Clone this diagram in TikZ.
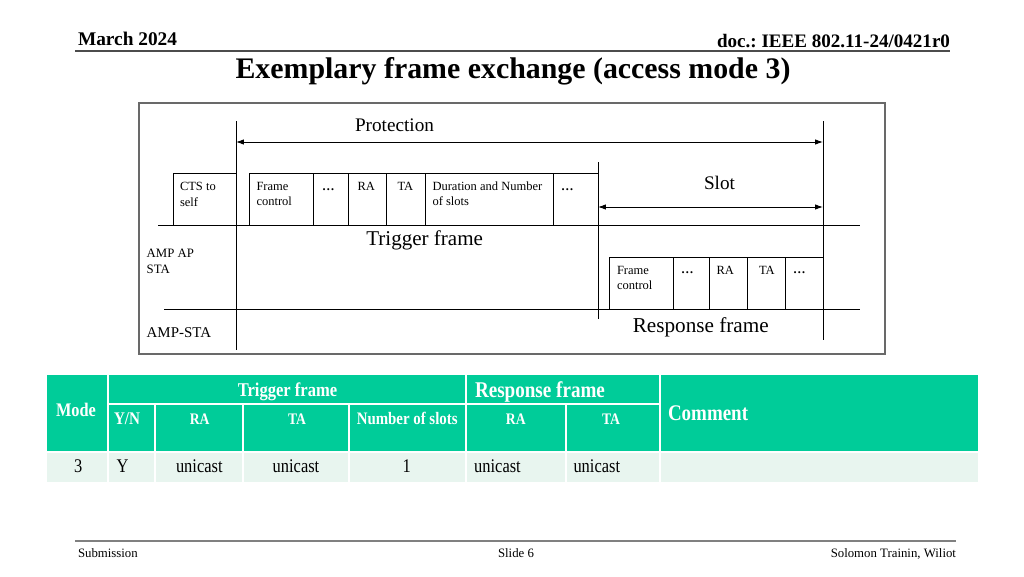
\documentclass[tikz,border=0pt]{standalone}
\usepackage{fontspec}
\setmainfont{Liberation Serif}
\newfontfamily\tabfont[FakeStretch=0.85]{Liberation Serif}
\usetikzlibrary{arrows.meta}
\definecolor{tealhd}{RGB}{0,204,153}
\definecolor{lightrow}{RGB}{232,245,239}
\definecolor{framegray}{RGB}{105,105,105}
\definecolor{footgray}{RGB}{128,128,128}
\newcommand{\fsz}[2]{\fontsize{#1pt}{#2pt}\selectfont}
\frenchspacing
\begin{document}
\begin{tikzpicture}[x=0.703125pt,y=-0.703125pt,
  txt/.style={inner sep=0pt, outer sep=0pt},
  boxtxt/.style={txt, anchor=north west, align=left, font=\fsz{8.8}{10.6}},
  dots/.style={txt, anchor=base west, font=\bfseries\fsz{8.8}{10.6}},
  ln/.style={line width=0.65pt},
  fbox/.style={draw, line width=0.65pt},
  dimarrow/.style={line width=0.65pt, {Latex[length=5.5pt,width=3.8pt]}-{Latex[length=5.5pt,width=3.8pt]}},
  thd/.style={txt, anchor=base, text=white, font=\tabfont\bfseries\fsz{#1}{#1}},
  thd/.default=12,
  tdat/.style={txt, anchor=base, font=\tabfont\fsz{13.6}{13.6}},
  sep/.style={white, line width=#1},
  sep/.default=0.8pt]
\useasboundingbox (0,0) rectangle (1024,576);
\fill[white] (0,0) rectangle (1024,576);

% ---------- header ----------
\node[txt, anchor=base west, font=\bfseries\fsz{13.6}{14}] (date) at (78,45.3) {March 2024};
\node[txt, anchor=base east, font=\bfseries\fsz{13.4}{14}] (doc) at (950,47) {doc.: IEEE 802.11-24/0421r0};
\draw[gray!60!black, line width=1.1pt] (75,51) -- (950,51);
\node[txt, anchor=base, font=\bfseries\fsz{21}{22}] (title) at (513,78) {Exemplary frame exchange (access mode 3)};

% ---------- diagram frame ----------
\draw[framegray, line width=0.9pt] (139,103) rectangle (885,354);

% vertical markers
\coordinate (v1t) at (236,121); \coordinate (v1b) at (236,349.5);
\coordinate (v2t) at (823,121); \coordinate (v2b) at (823,340);
\coordinate (v3t) at (598,162); \coordinate (v3b) at (598,319);
\draw[ln] (v1t) -- (v1b);
\draw[ln] (v2t) -- (v2b);
\draw[ln] (v3t) -- (v3b);

% time lines
\coordinate (ap1) at (158,225); \coordinate (ap2) at (860,225);
\coordinate (st1) at (164,309); \coordinate (st2) at (860,309);
\draw[ln] (ap1) -- (ap2);
\draw[ln] (st1) -- (st2);

% dimension arrows
\coordinate (pa) at (236,142); \coordinate (pb) at (823,142);
\draw[dimarrow] (pa) -- (pb);
\node[txt, anchor=base, font=\fsz{13.5}{14}] (prot) at (394.5,131) {Protection};
\coordinate (sa) at (598,207); \coordinate (sb) at (823,207);
\draw[dimarrow] (sa) -- (sb);
\node[txt, anchor=base, font=\fsz{13.5}{14}] (slot) at (719.5,189) {Slot};

% CTS to self
\draw[fbox] (173,173) rectangle (236,225);
\node[boxtxt] (cts) at (180,182.7) {CTS to\\self};

% Trigger frame fields
\draw[fbox] (249,173) rectangle (598,225);
\foreach \xx in {313,348,386,425,553} \draw[ln] (\xx,173) -- (\xx,225);
\node[boxtxt] (tfc) at (256.5,182.7) {Frame\\control};
\node[dots] (td1) at (322,190.5) {…};
\node[boxtxt] (tra) at (357.5,182.7) {RA};
\node[boxtxt] (tta) at (397.5,182.7) {TA};
\node[boxtxt] (tdur) at (432.5,182.2) {Duration and Number\\of slots};
\node[dots] (td2) at (561,190.5) {…};
\node[txt, anchor=base, font=\fsz{14.8}{15}] (trig) at (424.7,245.7) {Trigger frame};

% Response frame fields
\draw[fbox] (609,257.3) rectangle (823,309);
\foreach \xx in {673,709,747,785} \draw[ln] (\xx,257.3) -- (\xx,309);
\node[boxtxt] (rfc) at (617,266) {Frame\\control};
\node[dots] (rd1) at (681,273.5) {…};
\node[boxtxt] (rra) at (716.5,266) {RA};
\node[boxtxt] (rta) at (759,266) {TA};
\node[dots] (rd2) at (793,273.5) {…};
\node[txt, anchor=base, font=\fsz{14.9}{15}] (resp) at (700.8,332.3) {Response frame};

% station labels
\node[boxtxt, font=\fsz{9}{11}] (ap) at (146.7,249) {AMP AP\\STA};
\node[txt, anchor=base west, font=\fsz{10.5}{11}] (sta) at (146.7,337.7) {AMP-STA};

% ---------- table ----------
\fill[tealhd] (47,375) rectangle (978,451);
\fill[lightrow] (47,452.5) rectangle (978,481.5);
\draw[sep=1.2pt] (47,451.7) -- (978,451.7);
\draw[sep=2pt] (108,375) -- (108,481.5);
\draw[sep=2pt] (108,404) -- (660,404);
\draw[sep=2pt] (660,375) -- (660,481.5);
\draw[sep] (466,375) -- (466,481.5);
\foreach \xx in {155,243,349,566} \draw[sep] (\xx,404) -- (\xx,481.5);

\node[thd=13.5] (hmode) at (76,416) {Mode};
\node[thd=13.7] (htrig) at (287.5,396) {Trigger frame};
\node[thd=15.8, anchor=base west] (hresp) at (475,397) {Response frame};
\node[thd=15.7, anchor=base west] (hcom) at (668,420.7) {Comment};
\node[thd=12.5, anchor=base west] (hyn) at (114,424) {Y/N};
\node[thd=11.3] (hra1) at (199.7,424) {RA};
\node[thd=11.3] (hta1) at (297,424) {TA};
\node[thd=12.3] (hnum) at (407.2,424) {Number of slots};
\node[thd=11.3] (hra2) at (515.8,424) {RA};
\node[thd=11.3] (hta2) at (611,424) {TA};

\node[tdat] (dmode) at (78.3,472.7) {3};
\node[tdat, anchor=base west] (dyn) at (116.5,472.7) {Y};
\node[tdat] (dra1) at (199.3,472.7) {unicast};
\node[tdat] (dta1) at (296,472.7) {unicast};
\node[tdat] (dnum) at (406.7,472.7) {1};
\node[tdat, anchor=base west] (dra2) at (474.2,472.7) {unicast};
\node[tdat, anchor=base west] (dta2) at (573.5,472.7) {unicast};

% ---------- footer ----------
\draw[footgray, line width=1.4pt] (75,541) -- (956,541);
\node[txt, anchor=base west, font=\fsz{9}{10}] (sub) at (78,557) {Submission};
\node[txt, anchor=base, font=\fsz{9}{10}] (slide) at (516,557) {Slide 6};
\node[txt, anchor=base east, font=\fsz{9}{10}] (auth) at (956,557) {Solomon Trainin, Wiliot};
\end{tikzpicture}
\end{document}
